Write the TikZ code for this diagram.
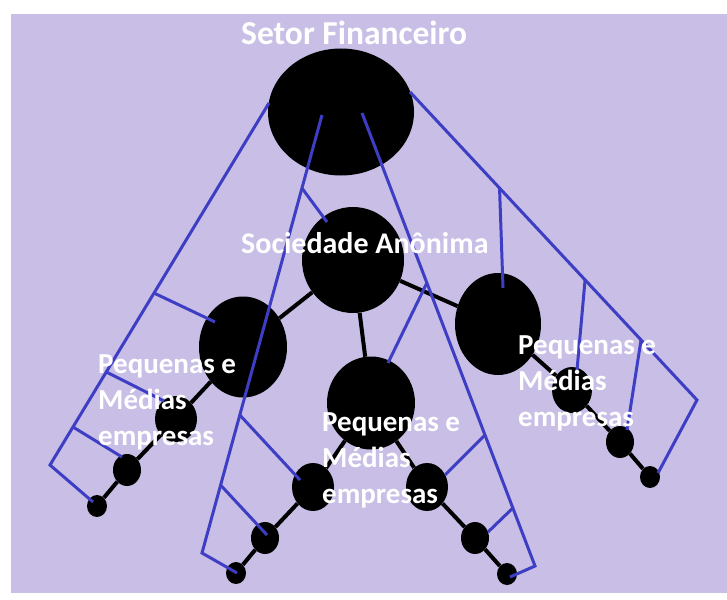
\documentclass[tikz,border=0pt]{standalone}
\usepackage{fontspec}
\setmainfont{Carlito}
\usetikzlibrary{shapes.geometric,calc}
\definecolor{bgl}{RGB}{200,190,230}
\definecolor{bline}{RGB}{62,62,196}
\begin{document}
\begin{tikzpicture}[x=1pt,y=-1pt,
  orb/.style args={#1/#2}{ellipse,fill=black,inner sep=0pt,minimum width=#1pt,minimum height=#2pt},
  chainln/.style={line width=4pt,black},
  tie/.style={line width=3pt,bline},
  lbl/.style={text=white,font=\bfseries\fontsize{29}{36}\selectfont,align=left,inner sep=0pt,anchor=north west},
  ttl/.style={text=white,font=\bfseries\fontsize{#1}{#1}\selectfont,inner sep=0pt,anchor=base west}]
\useasboundingbox (0,0) rectangle (727,599);
\fill[white] (0,0) rectangle (727,599);
\fill[bgl] (11,14) rectangle (727,593);
% ellipses
\node[orb=146/127] (fin) at (341,112) {};
\node[orb=102/106] (soc) at (353,260) {};
\node[orb=88/101] (pmL) at (243,347) {};
\node[orb=88/93] (pmM) at (371,403) {};
\node[orb=86/102] (pmR) at (498,324) {};
\node[orb=42/46] (L1) at (176,419) {};
\node[orb=28/32] (L2) at (127,470) {};
\node[orb=20/22] (L3) at (97,506) {};
\node[orb=42/48] (ML1) at (313,487) {};
\node[orb=28/32] (ML2) at (265,538) {};
\node[orb=20/22] (ML3) at (236,573) {};
\node[orb=42/48] (MR1) at (427,487) {};
\node[orb=28/32] (MR2) at (475,538) {};
\node[orb=20/22] (MR3) at (507,574) {};
\node[orb=40/46] (R1) at (572,390) {};
\node[orb=28/32] (R2) at (620,442) {};
\node[orb=20/22] (R3) at (650,477) {};
% black links
\draw[chainln] (soc) -- (pmL);
\draw[chainln] (soc) -- (pmM);
\draw[chainln] (soc) -- (pmR);
\draw[chainln] (pmL) -- (L1) -- (L2) -- (L3);
\draw[chainln] (pmM) -- (ML1) -- (ML2) -- (ML3);
\draw[chainln] (pmM) -- (MR1) -- (MR2) -- (MR3);
\draw[chainln] (pmR) -- (R1) -- (R2) -- (R3);
% blue lines
\coordinate (a0) at (269,103); \coordinate (aV) at (50,465); \coordinate (aE) at (93,502);
\coordinate (a1) at ($(a0)!0.525!(aV)$); \coordinate (a1e) at (215,322);
\coordinate (a2) at ($(a0)!0.743!(aV)$); \coordinate (a2e) at (164,401);
\coordinate (a3) at ($(a0)!0.895!(aV)$); \coordinate (a3e) at (122,457);
\draw[tie] (a0) -- (aV) -- (aE);
\draw[tie] (a1) -- (a1e);
\draw[tie] (a2) -- (a2e);
\draw[tie] (a3) -- (a3e);
\coordinate (b0) at (322,115); \coordinate (bV) at (202,553); \coordinate (bE) at (237,573);
\coordinate (b1) at ($(b0)!0.167!(bV)$); \coordinate (b1e) at (327,222);
\coordinate (b2) at ($(b0)!0.685!(bV)$); \coordinate (b2e) at (300,480);
\coordinate (b3) at ($(b0)!0.845!(bV)$); \coordinate (b3e) at (267,535);
\draw[tie] (b0) -- (bV) -- (bE);
\draw[tie] (b1) -- (b1e);
\draw[tie] (b2) -- (b2e);
\draw[tie] (b3) -- (b3e);
\coordinate (c0) at (362,113); \coordinate (cV) at (535,566); \coordinate (cE) at (510,577);
\coordinate (c1) at ($(c0)!0.375!(cV)$); \coordinate (c1e) at (388,363);
\coordinate (c2) at ($(c0)!0.711!(cV)$); \coordinate (c2e) at (445,475);
\coordinate (c3) at ($(c0)!0.872!(cV)$); \coordinate (c3e) at (488,532);
\draw[tie] (c0) -- (cV) -- (cE);
\draw[tie] (c1) -- (c1e);
\draw[tie] (c2) -- (c2e);
\draw[tie] (c3) -- (c3e);
\coordinate (d0) at (410,92); \coordinate (dV) at (697,400); \coordinate (dE) at (658,473);
\coordinate (d1) at ($(d0)!0.312!(dV)$); \coordinate (d1e) at (503,288);
\coordinate (d2) at ($(d0)!0.61!(dV)$); \coordinate (d2e) at (577,370);
\coordinate (d3) at ($(d0)!0.805!(dV)$); \coordinate (d3e) at (627,430);
\draw[tie] (d0) -- (dV) -- (dE);
\draw[tie] (d1) -- (d1e);
\draw[tie] (d2) -- (d2e);
\draw[tie] (d3) -- (d3e);
% texts
\node[ttl=33.5] (tfin) at (241,45) {Setor Financeiro};
\node[ttl=30] (tsoc) at (241,253) {Sociedade Anônima};
\node[lbl] (tL) at (98,354) {Pequenas e\\Médias\\empresas};
\node[lbl] (tM) at (322,412) {Pequenas e\\Médias\\empresas};
\node[lbl] (tR) at (518,335) {Pequenas e\\Médias\\empresas};
\end{tikzpicture}
\end{document}
